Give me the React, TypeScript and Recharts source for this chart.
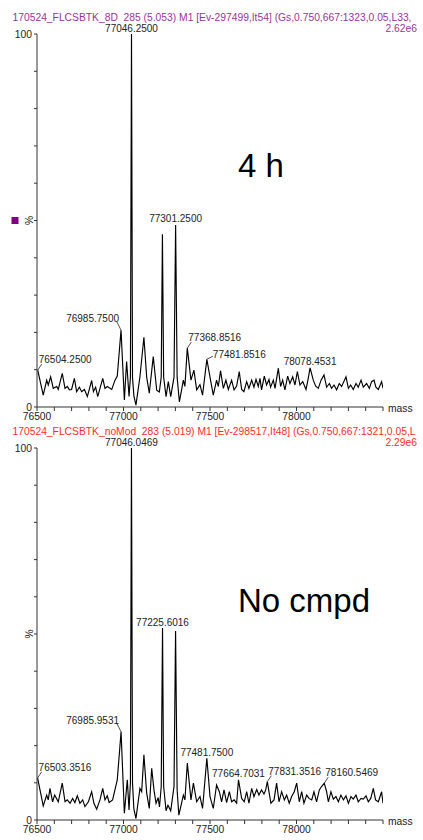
import React from "react"
import { ComposedChart, Line, Scatter, XAxis, YAxis } from "recharts"

// axis ticks
const massTicks = [
  76500, 76600, 76700, 76800, 76900, 77000, 77100, 77200, 77300, 77400, 77500,
  77600, 77700, 77800, 77900, 78000, 78100, 78200, 78300, 78400, 78500,
]
const massLabels = [76500, 77000, 77500, 78000]
const pctTicks = [0, 10, 20, 30, 40, 50, 60, 70, 80, 90, 100]
const pctLabels = [0, 100]

// 4 h spectrum (mass, % intensity)
const mass4h = [
  76504.25, 76536, 76556, 76565, 76579, 76594, 76614, 76623, 76646, 76662, 76675, 76687, 76700, 76716,
  76729, 76745, 76758, 76774, 76791, 76816, 76826, 76839, 76851, 76880, 76893, 76906, 76932, 76951,
  76964, 76985.75, 77005, 77018, 77032, 77040, 77046.25, 77052, 77060, 77072, 77095, 77118, 77134,
  77149, 77172, 77192, 77207, 77218, 77225, 77232, 77246, 77259, 77273, 77292, 77301.25, 77310, 77323,
  77346, 77355, 77368.85, 77390, 77407, 77423, 77442, 77457, 77481.85, 77500, 77519, 77538, 77548,
  77561, 77577, 77592, 77606, 77625, 77639, 77654, 77669, 77683, 77696, 77712, 77725, 77741, 77754,
  77766, 77779, 77789, 77798, 77814, 77827, 77841, 77850, 77866, 77876, 77895, 77908, 77920, 77933,
  77949, 77962, 77978, 77991, 78005, 78020, 78036, 78055, 78066, 78078.45, 78097, 78111, 78126, 78142,
  78159, 78174, 78190, 78203, 78217, 78232, 78247, 78261, 78286, 78300, 78313, 78328, 78344, 78357,
  78373, 78386, 78405, 78421, 78434, 78448, 78459, 78473, 78492, 78500,
]
const int4h = [
  9.9, 3.2, 7.2, 5.9, 8.1, 5.0, 5.5, 4.7, 9.0, 5.0, 5.5, 4.6, 4.7, 7.7,
  4.1, 5.3, 4.1, 4.7, 2.8, 7.1, 4.1, 5.3, 2.8, 7.7, 5.0, 5.5, 4.7, 7.2,
  8.3, 20.6, 1.9, 12.2, 2.8, 8.0, 100, 8.0, 3.0, 0.5, 8.1, 18.7, 8.0,
  3.7, 13.5, 4.5, 4.0, 8.0, 46.3, 8.0, 2.8, 6.8, 2.8, 8.0, 48.8, 8.0, 1.4,
  7.2, 5.5, 15.8, 7.2, 9.9, 4.6, 6.0, 3.2, 12.8, 8.0, 3.2, 7.2, 5.5,
  9.7, 5.0, 7.2, 4.7, 7.2, 4.6, 5.6, 9.5, 4.7, 4.1, 6.8, 5.0, 7.2, 5.3,
  7.4, 5.5, 7.7, 4.6, 8.3, 5.9, 7.4, 5.3, 7.2, 5.0, 10.4, 5.5, 7.2, 4.6,
  8.3, 6.3, 8.1, 5.9, 9.5, 5.9, 6.8, 4.7, 7.2, 10.5, 7.2, 5.6, 5.0, 7.2,
  8.6, 5.3, 6.3, 5.0, 5.9, 4.6, 6.3, 5.5, 8.1, 5.0, 5.9, 4.7, 6.3, 5.3,
  7.2, 5.3, 6.3, 5.0, 6.8, 7.2, 5.3, 4.7, 6.8, 5.0,
]

// no compound spectrum
const massNo = [
  76503.35, 76536, 76556, 76565, 76575, 76590, 76602, 76623, 76646, 76662, 76675, 76691, 76706, 76719,
  76733, 76748, 76764, 76777, 76797, 76816, 76829, 76845, 76864, 76880, 76893, 76906, 76917, 76937,
  76964, 76985.95, 77005, 77022, 77032, 77040, 77046.05, 77052, 77060, 77072, 77095, 77105, 77118,
  77134, 77149, 77163, 77176, 77188, 77200, 77208, 77218, 77225.6, 77232, 77246, 77257, 77273, 77292,
  77301, 77310, 77320, 77346, 77355, 77369, 77390, 77404, 77423, 77442, 77457, 77481.75, 77500, 77519,
  77538, 77554, 77567, 77581, 77596, 77612, 77625, 77640, 77654, 77664.7, 77683, 77698, 77712, 77725,
  77741, 77754, 77770, 77783, 77798, 77812, 77822, 77831.35, 77852, 77870, 77885, 77899, 77914, 77930,
  77943, 77958, 77972, 77987, 78001, 78016, 78030, 78043, 78059, 78072, 78088, 78101, 78116, 78132,
  78145, 78160.55, 78174, 78184, 78199, 78213, 78228, 78242, 78257, 78271, 78286, 78300, 78315, 78328,
  78344, 78357, 78373, 78386, 78402, 78415, 78429, 78444, 78457, 78473, 78492, 78500,
]
const intNo = [
  11.3, 3.8, 6.7, 5.4, 8.5, 4.9, 6.7, 4.9, 9.9, 4.9, 5.4, 4.5, 5.8, 4.7,
  6.5, 4.5, 5.4, 3.6, 4.9, 7.6, 4.5, 2.9, 5.4, 8.5, 5.4, 6.5, 4.7, 5.4,
  10.8, 23.7, 1.8, 10.8, 2.7, 10.0, 100, 10.0, 3.0, 0.4, 8.5, 7.6, 17.5,
  7.2, 3.1, 13.9, 8.1, 4.5, 6.0, 3.5, 9.0, 51.6, 9.0, 2.5, 4.0, 2.5, 9.0,
  50.8, 8.0, 1.3, 6.7, 5.4, 15.3, 5.4, 9.9, 4.9, 6.3, 3.1, 16.6, 6.3, 3.1,
  9.4, 7.6, 4.9, 8.1, 4.7, 7.6, 4.9, 5.4, 4.5, 10.8, 5.8, 4.9, 7.6, 4.5,
  8.5, 6.3, 8.2, 6.7, 8.1, 7.0, 8.1, 10.3, 4.5, 5.4, 9.9, 4.9, 7.6, 5.4,
  6.7, 4.5, 6.3, 7.6, 9.9, 4.9, 7.6, 4.5, 6.7, 5.8, 5.4, 7.6, 4.9, 8.1,
  9.0, 9.9, 7.6, 4.9, 7.6, 5.6, 6.3, 4.9, 6.7, 5.4, 6.5, 4.5, 6.3, 5.6,
  6.7, 4.9, 5.8, 5.6, 6.5, 4.9, 5.8, 8.5, 5.4, 4.9, 7.6, 4.5,
]

// labelled peaks
const peakMass4h = [76504.25, 76985.75, 77046.25, 77301.25, 77368.85, 77481.85, 78078.45]
const peakInt4h = [9.9, 20.6, 100, 48.8, 15.8, 12.8, 10.5]
const peakText4h = ["76504.2500", "76985.7500", "77046.2500", "77301.2500", "77368.8516", "77481.8516", "78078.4531"]
const peakPlace4h = ["right", "left", "top", "top", "right", "flat", "top"]

const peakMassNo = [76503.35, 76985.95, 77046.05, 77225.6, 77481.75, 77664.7, 77831.35, 78160.55]
const peakIntNo = [11.3, 23.7, 100, 51.6, 16.6, 10.8, 10.3, 9.9]
const peakTextNo = ["76503.3516", "76985.9531", "77046.0469", "77225.6016", "77481.7500", "77664.7031", "77831.3516", "78160.5469"]
const peakPlaceNo = ["right", "left", "top", "top", "top", "top", "right", "right"]

const FONT = "'Liberation Sans', Arial, sans-serif"
const AXIS = "#333"

const toRows = (m: number[], v: number[]) => m.map((mass, i) => ({ mass, value: v[i] }))
const toPeaks = (m: number[], v: number[], t: string[], p: string[]) =>
  m.map((mass, i) => ({ mass, value: v[i], text: t[i], place: p[i] }))

const PeakLabel = (props: any) => {
  const { cx, cy, payload } = props
  if (cx == null || cy == null) return null
  const common = { fontSize: 10, fontFamily: FONT, fill: "#222" }
  if (payload.place === "top") {
    return <text x={cx} y={cy - 2.5} textAnchor="middle" {...common}>{payload.text}</text>
  }
  if (payload.place === "left") {
    return (
      <g>
        <line x1={cx} y1={cy} x2={cx - 4} y2={cy - 8} stroke="#222" strokeWidth={0.8} />
        <text x={cx - 2} y={cy - 8} textAnchor="end" {...common}>{payload.text}</text>
      </g>
    )
  }
  if (payload.place === "flat") {
    return (
      <g>
        <line x1={cx} y1={cy} x2={cx + 6} y2={cy - 3} stroke="#222" strokeWidth={0.8} />
        <text x={cx + 6} y={cy - 1.5} textAnchor="start" {...common}>{payload.text}</text>
      </g>
    )
  }
  return (
    <g>
      <line x1={cx} y1={cy} x2={cx + 4} y2={cy - 6} stroke="#222" strokeWidth={0.8} />
      <text x={cx + 1} y={cy - 7} textAnchor="start" {...common}>{payload.text}</text>
    </g>
  )
}

const MassTick = (props: any) => {
  const { x, y, payload } = props
  if (!massLabels.includes(payload.value)) return null
  return (
    <text x={x} y={y + 9} textAnchor="middle" fontSize={10.3} fontFamily={FONT} fill="#222">
      {payload.value}
    </text>
  )
}

const PctTick = (props: any) => {
  const { x, y, payload } = props
  if (!pctLabels.includes(payload.value)) return null
  return (
    <text x={x} y={y + 3.5} textAnchor="end" fontSize={10.3} fontFamily={FONT} fill="#222">
      {payload.value}
    </text>
  )
}

const CH = 426

function Spectrum({ rows, peaks, plotH }: { rows: any[]; peaks: any[]; plotH: number }) {
  return (
    <ComposedChart width={423} height={CH} margin={{ top: 34, right: 40, left: 0, bottom: CH - 34 - plotH - 14 }}>
      <XAxis
        dataKey="mass"
        type="number"
        domain={[76500, 78500]}
        ticks={massTicks}
        interval={0}
        tick={<MassTick />}
        tickSize={4}
        tickMargin={0}
        height={14}
        stroke={AXIS}
        allowDataOverflow
      />
      <YAxis
        type="number"
        domain={[0, 100]}
        ticks={pctTicks}
        interval={0}
        tick={<PctTick />}
        tickSize={3}
        tickMargin={2}
        width={37}
        stroke={AXIS}
      />
      <Line
        data={rows}
        dataKey="value"
        type="linear"
        stroke="#000"
        strokeWidth={1.15}
        dot={false}
        isAnimationActive={false}
      />
      <Scatter data={peaks} dataKey="value" shape={<PeakLabel />} isAnimationActive={false} />
    </ComposedChart>
  )
}

export default function App() {
  const rows4h = toRows(mass4h, int4h)
  const rowsNo = toRows(massNo, intNo)
  const peaks4h = toPeaks(peakMass4h, peakInt4h, peakText4h, peakPlace4h)
  const peaksNo = toPeaks(peakMassNo, peakIntNo, peakTextNo, peakPlaceNo)

  return (
    <div style={{ position: "absolute", left: 0, top: 0, width: 423, height: 840, background: "#fff", fontFamily: FONT }}>
      <div style={{ position: "absolute", left: 0, top: 0 }}>
        <Spectrum rows={rows4h} peaks={peaks4h} plotH={373} />
      </div>
      <div style={{ position: "absolute", left: 0, top: 414 }}>
        <Spectrum rows={rowsNo} peaks={peaksNo} plotH={372} />
      </div>
      <svg width={423} height={840} style={{ position: "absolute", left: 0, top: 0, pointerEvents: "none" }}>
        <g fontFamily={FONT} fontSize={10.3}>
          <text x={12.5} y={20.5} fill="#993399" xmlSpace="preserve">
            {"170524_FLCSBTK_8D  285 (5.053) M1 [Ev-297499,It54] (Gs,0.750,667:1323,0.05,L33,"}
          </text>
          <text x={417} y={31.5} textAnchor="end" fill="#993399">2.62e6</text>
          <text x={12.5} y={435} fill="#ff2a2a" xmlSpace="preserve">
            {"170524_FLCSBTK_noMod  283 (5.019) M1 [Ev-298517,It48] (Gs,0.750,667:1321,0.05,L"}
          </text>
          <text x={417} y={446} textAnchor="end" fill="#ff2a2a">2.29e6</text>
          <text x={388} y={411.5} fill="#222">mass</text>
          <text x={388} y={824.5} fill="#222">mass</text>
          <text x={0} y={0} transform="translate(33,220.5) rotate(-90)" textAnchor="middle" fill="#222">%</text>
          <text x={0} y={0} transform="translate(33,634) rotate(-90)" textAnchor="middle" fill="#222">%</text>
        </g>
        <rect x={11.5} y={217} width={7} height={7} fill="#800080" />
        <text x={238} y={177} fontFamily={FONT} fontSize={33} fill="#000">4 h</text>
        <text x={238} y={612} fontFamily={FONT} fontSize={33} fill="#000">No cmpd</text>
      </svg>
    </div>
  )
}
